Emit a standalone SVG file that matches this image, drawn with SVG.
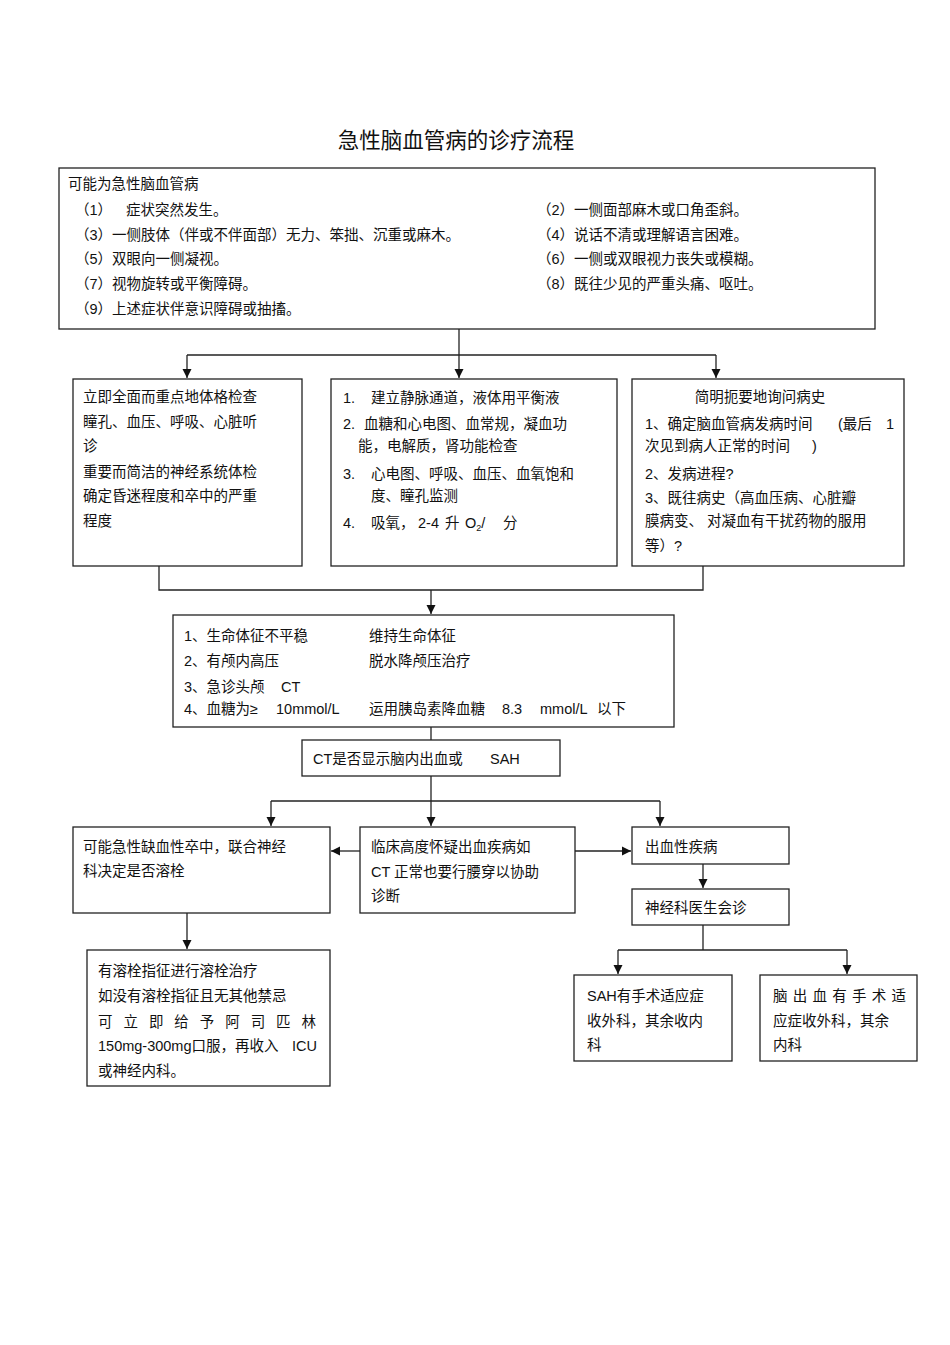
<svg xmlns="http://www.w3.org/2000/svg" width="950" height="1345" viewBox="0 0 950 1345">
<style>
text{font-family:"Liberation Sans","Noto Sans CJK SC",sans-serif;font-size:14.5px;fill:#111}
.title{font-size:21.5px}
.box{fill:#fff;stroke:#222;stroke-width:1.3}
.ln{fill:none;stroke:#222;stroke-width:1.3}
</style>
<defs>
<marker id="ah" markerWidth="10" markerHeight="10" refX="9" refY="5" orient="auto" markerUnits="userSpaceOnUse">
<path d="M0,0.5 L9,5 L0,9.5 Z" fill="#111"/>
</marker>
</defs>
<rect width="950" height="1345" fill="#fff"/>
<text class="title" x="456" y="148" text-anchor="middle">急性脑血管病的诊疗流程</text>

<g id="connectors">
<path class="ln" d="M459,329 V355"/>
<path class="ln" d="M187,355 H716"/>
<path class="ln" d="M187,355 V378" marker-end="url(#ah)"/>
<path class="ln" d="M459,355 V378" marker-end="url(#ah)"/>
<path class="ln" d="M716,355 V378" marker-end="url(#ah)"/>
<path class="ln" d="M159,566 V590 H703 V566"/>
<path class="ln" d="M431,590 V614" marker-end="url(#ah)"/>
<path class="ln" d="M431,727 V740"/>
<path class="ln" d="M431,776 V801"/>
<path class="ln" d="M271,801 H660"/>
<path class="ln" d="M271,801 V826" marker-end="url(#ah)"/>
<path class="ln" d="M431,801 V826" marker-end="url(#ah)"/>
<path class="ln" d="M660,801 V826" marker-end="url(#ah)"/>
<path class="ln" d="M360,851 H331" marker-end="url(#ah)"/>
<path class="ln" d="M575,851 H631" marker-end="url(#ah)"/>
<path class="ln" d="M703,864 V888" marker-end="url(#ah)"/>
<path class="ln" d="M703,925 V950"/>
<path class="ln" d="M618,950 H847"/>
<path class="ln" d="M618,950 V974" marker-end="url(#ah)"/>
<path class="ln" d="M847,950 V974" marker-end="url(#ah)"/>
<path class="ln" d="M187,913 V949" marker-end="url(#ah)"/>
</g>

<g id="top">
<rect class="box" x="59" y="168" width="816" height="161"/>
<text x="68" y="189">可能为急性脑血管病</text>
<text x="75" y="215">（1）</text><text x="126" y="215">症状突然发生。</text>
<text x="537" y="215">（2）一侧面部麻木或口角歪斜。</text>
<text x="75" y="240">（3）一侧肢体（伴或不伴面部）无力、笨拙、沉重或麻木。</text>
<text x="537" y="240">（4）说话不清或理解语言困难。</text>
<text x="75" y="264">（5）双眼向一侧凝视。</text>
<text x="537" y="264">（6）一侧或双眼视力丧失或模糊。</text>
<text x="75" y="289">（7）视物旋转或平衡障碍。</text>
<text x="537" y="289">（8）既往少见的严重头痛、呕吐。</text>
<text x="75" y="314">（9）上述症状伴意识障碍或抽搐。</text>
</g>

<g id="exam">
<rect class="box" x="73" y="379" width="229" height="187"/>
<text x="83" y="402">立即全面而重点地体格检查</text>
<text x="83" y="427">瞳孔、血压、呼吸、心脏听</text>
<text x="83" y="451">诊</text>
<text x="83" y="477">重要而简洁的神经系统体检</text>
<text x="83" y="501">确定昏迷程度和卒中的严重</text>
<text x="83" y="526">程度</text>
</g>

<g id="support">
<rect class="box" x="331" y="379" width="286" height="187"/>
<text x="343" y="403">1.</text><text x="371" y="403">建立静脉通道，液体用平衡液</text>
<text x="343" y="429">2.</text><text x="364" y="429">血糖和心电图、血常规，凝血功</text>
<text x="358" y="451">能，电解质，肾功能检查</text>
<text x="343" y="479">3.</text><text x="371" y="479">心电图、呼吸、血压、血氧饱和</text>
<text x="371" y="501">度、瞳孔监测</text>
<text x="343" y="528">4.</text><text x="371" y="528">吸氧，</text><text x="418" y="528">2-4</text><text x="445" y="528">升</text><text x="465" y="528">O<tspan font-size="9" dy="3">2</tspan><tspan dy="-3">/</tspan></text><text x="503" y="528">分</text>
</g>

<g id="history">
<rect class="box" x="632" y="379" width="272" height="187"/>
<text x="760" y="402" text-anchor="middle">简明扼要地询问病史</text>
<text x="645" y="429">1、确定脑血管病发病时间</text><text x="838" y="429">(最后</text><text x="886" y="429">1</text>
<text x="645" y="451">次见到病人正常的时间</text><text x="812" y="451">)</text>
<text x="645" y="479">2、发病进程?</text>
<text x="645" y="503">3、既往病史（高血压病、心脏瓣</text>
<text x="645" y="526">膜病变、 对凝血有干扰药物的服用</text>
<text x="645" y="551">等）?</text>
</g>

<g id="vital">
<rect class="box" x="173" y="615" width="501" height="112"/>
<text x="184" y="641">1、生命体征不平稳</text><text x="369" y="641">维持生命体征</text>
<text x="184" y="666">2、有颅内高压</text><text x="369" y="666">脱水降颅压治疗</text>
<text x="184" y="692">3、急诊头颅</text><text x="281" y="692">CT</text>
<text x="184" y="714">4、血糖为≥</text><text x="276" y="714">10mmol/L</text>
<text x="369" y="714">运用胰岛素降血糖</text><text x="502" y="714">8.3</text><text x="540" y="714">mmol/L</text><text x="597" y="714">以下</text>
</g>

<g id="ct">
<rect class="box" x="302" y="740" width="258" height="36"/>
<text x="313" y="764">CT是否显示脑内出血或</text><text x="490" y="764">SAH</text>
</g>

<g id="ischemic">
<rect class="box" x="73" y="827" width="257" height="86"/>
<text x="83" y="852">可能急性缺血性卒中，联合神经</text>
<text x="83" y="876">科决定是否溶栓</text>
</g>

<g id="suspect">
<rect class="box" x="360" y="827" width="215" height="86"/>
<text x="371" y="852">临床高度怀疑出血疾病如</text>
<text x="371" y="877">CT 正常也要行腰穿以协助</text>
<text x="371" y="901">诊断</text>
</g>

<g id="hemorrhagic">
<rect class="box" x="632" y="827" width="157" height="37"/>
<text x="645" y="852">出血性疾病</text>
</g>

<g id="consult">
<rect class="box" x="632" y="889" width="157" height="36"/>
<text x="645" y="913">神经科医生会诊</text>
</g>

<g id="sah">
<rect class="box" x="574" y="975" width="158" height="86"/>
<text x="587" y="1001">SAH有手术适应症</text>
<text x="587" y="1026">收外科，其余收内</text>
<text x="587" y="1050">科</text>
</g>

<g id="ich">
<rect class="box" x="760" y="975" width="157" height="86"/>
<text x="773" y="1001" textLength="133" lengthAdjust="spacing">脑出血有手术适</text>
<text x="773" y="1026">应症收外科，其余</text>
<text x="773" y="1050">内科</text>
</g>

<g id="thrombolysis">
<rect class="box" x="87" y="950" width="243" height="136"/>
<text x="98" y="976">有溶栓指征进行溶栓治疗</text>
<text x="98" y="1001">如没有溶栓指征且无其他禁忌</text>
<text x="98" y="1027" textLength="218" lengthAdjust="spacing">可立即给予阿司匹林</text>
<text x="98" y="1051">150mg-300mg口服，再收入</text><text x="292" y="1051">ICU</text>
<text x="98" y="1076">或神经内科。</text>
</g>
</svg>
